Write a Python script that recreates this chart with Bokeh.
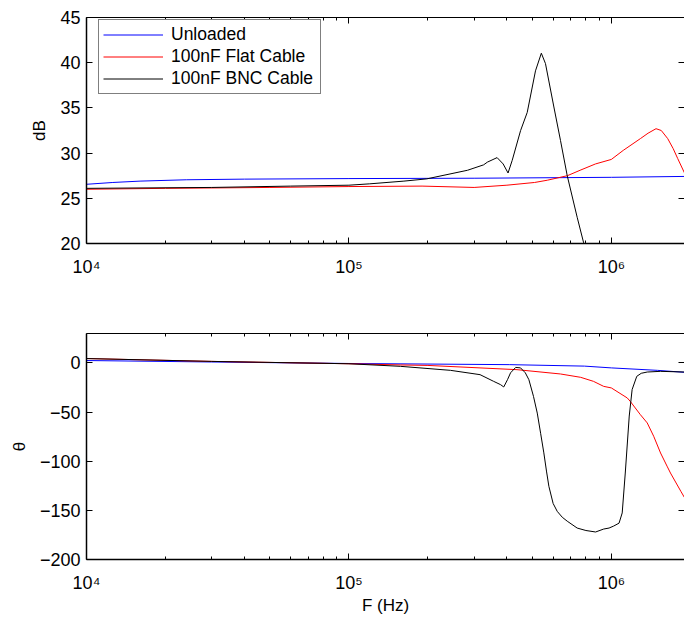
from bokeh.plotting import figure
from bokeh.models import (LogAxis, LinearAxis, FixedTicker, Legend, LegendItem,
                          Range1d, CustomJSTickFormatter)
from bokeh.layouts import column
from bokeh.embed import file_html
from bokeh.resources import INLINE

# ---------------- data ----------------
series_names = ["Unloaded", "100nF Flat Cable", "100nF BNC Cable"]

unl_mag_f = [1.0e4, 1.26e4, 1.6e4, 2.4e4, 4.0e4, 1.0e5, 3.0e5, 1.0e6, 1.9e6]
unl_mag = [26.55, 26.75, 26.9, 27.05, 27.12, 27.18, 27.22, 27.32, 27.42]

flat_mag_f = [1.0e4, 2.0e4, 5.0e4, 1.0e5, 1.9e5, 3.0e5, 4.0e5, 5.1e5, 5.7e5, 6.8e5,
              7.6e5, 8.7e5, 1.0e6, 1.11e6, 1.29e6, 1.38e6, 1.48e6, 1.55e6, 1.64e6,
              1.72e6, 1.79e6, 1.9e6]
flat_mag = [26.0, 26.1, 26.2, 26.3, 26.35, 26.2, 26.45, 26.75, 27.0, 27.5,
            28.1, 28.8, 29.3, 30.3, 31.6, 32.2, 32.7, 32.5, 31.6,
            30.5, 29.4, 27.8]

bnc_mag_f = [1.0e4, 3.0e4, 6.0e4, 1.0e5, 1.2e5, 1.62e5, 1.98e5, 2.83e5, 3.26e5, 3.37e5,
             3.67e5, 3.87e5, 4.04e5, 4.19e5, 4.51e5, 4.78e5, 5.14e5, 5.41e5, 5.61e5,
             6.04e5, 6.4e5, 6.79e5, 7.41e5, 7.83e5, 8.3e5]
bnc_mag = [26.1, 26.2, 26.35, 26.45, 26.6, 26.9, 27.15, 28.1, 28.7, 29.0,
           29.5, 28.8, 27.8, 29.2, 32.5, 34.5, 39.1, 41.05, 39.9,
           35.1, 31.4, 27.5, 22.9, 20.15, 17.0]

unl_ph_f = [1.0e4, 3.0e4, 1.0e5, 4.1e5, 7.9e5, 1.0e6, 1.5e6, 1.9e6]
unl_ph = [2.5, 1.0, -0.5, -1.7, -3.2, -5.0, -7.5, -9.5]

flat_ph_f = [1.0e4, 3.0e4, 1.0e5, 1.57e5, 2.0e5, 4.37e5, 6.4e5, 7.64e5, 8.55e5, 9.35e5,
             1.0e6, 1.15e6, 1.18e6, 1.29e6, 1.37e6, 1.45e6, 1.54e6, 1.63e6, 1.68e6,
             1.84e6, 1.9e6]
flat_ph = [4.5, 1.6, -0.8, -2.0, -2.5, -6.8, -11.2, -14.6, -18.7, -23.8,
           -25.4, -35.6, -39.0, -52.6, -61.0, -74.6, -91.6, -105.0, -112.0,
           -130.6, -137.0]

bnc_ph_f = [1.0e4, 3.0e4, 1.0e5, 1.57e5, 2.44e5, 3.16e5, 3.56e5, 3.78e5, 3.89e5, 4.02e5,
            4.13e5, 4.32e5, 4.51e5, 4.7e5, 4.85e5, 5.05e5, 5.22e5, 5.38e5, 5.53e5,
            5.66e5, 5.78e5, 6.0e5, 6.22e5, 6.5e5, 6.79e5, 7.41e5, 8.0e5, 8.71e5,
            9.35e5, 9.8e5, 1.02e6, 1.07e6, 1.10e6, 1.13e6, 1.17e6, 1.20e6,
            1.25e6, 1.3e6, 1.37e6, 1.54e6, 1.9e6]
bnc_ph = [4.5, 1.6, -0.8, -3.4, -7.5, -11.9, -18.7, -22.0, -24.4, -17.0,
          -10.0, -4.5, -5.0, -10.0, -17.0, -34.0, -51.0, -72.0, -91.5,
          -110.0, -125.5, -143.0, -151.0, -157.0, -161.0, -168.0, -170.5, -172.0,
          -169.0, -168.0, -166.0, -163.0, -152.6, -112.0, -54.0, -27.0,
          -13.6, -10.5, -9.2, -8.5, -9.2]

x_major = [1e4, 1e5, 1e6]
mag_ticks = [20, 25, 30, 35, 40, 45]
ph_ticks = [-200, -150, -100, -50, 0]

colors = ["#0000ff", "#ff0000", "#000000"]
FONT = "Liberation Sans"
TICK_FS = "18px"
LABEL_FS = "17px"
LEGEND_FS = "17.5px"

x_minor = [m * d for d in (1e4, 1e5, 1e6) for m in range(2, 10) if m * d < 1.9e6]

xfmt = CustomJSTickFormatter(code="""
const e = Math.round(Math.log10(tick));
const sup = {4: '\\u2074', 5: '\\u2075', 6: '\\u2076'};
return '10' + (sup[e] !== undefined ? sup[e] : e);
""")
yfmt = CustomJSTickFormatter(code="""
return tick < 0 ? '\\u2212' + (-tick) : '' + tick;
""")
blankfmt = CustomJSTickFormatter(code="return '';")


def style_common(ax):
    ax.axis_line_color = "black"
    ax.axis_line_width = 1.5
    ax.major_tick_in = 6
    ax.major_tick_out = 0
    ax.minor_tick_in = 3
    ax.minor_tick_out = 0
    ax.major_tick_line_color = "black"
    ax.minor_tick_line_color = "black"
    ax.major_label_text_font = FONT
    ax.major_label_text_font_size = TICK_FS
    ax.major_label_text_color = "black"
    ax.axis_label_text_font = FONT
    ax.axis_label_text_font_size = LABEL_FS
    ax.axis_label_text_font_style = "normal"
    ax.axis_label_text_color = "black"


def make_fig(height, top, bottom, yr, yticks, ylabel, xlabel):
    p = figure(width=684, height=height, x_axis_type="log",
               x_range=Range1d(1e4, 1.9e6), y_range=Range1d(*yr),
               output_backend="svg", toolbar_location=None,
               min_border_left=86, min_border_right=0,
               min_border_top=top, min_border_bottom=bottom)
    p.outline_line_color = None
    p.grid.visible = False
    p.background_fill_color = "white"
    p.border_fill_color = "white"

    xa = p.xaxis[0]
    xa.ticker = FixedTicker(ticks=x_major, minor_ticks=x_minor)
    xa.formatter = xfmt
    style_common(xa)
    xa.major_label_standoff = 13
    if xlabel:
        xa.axis_label = xlabel
        xa.axis_label_standoff = 0

    ya = p.yaxis[0]
    ya.ticker = FixedTicker(ticks=yticks)
    ya.formatter = yfmt
    style_common(ya)
    ya.minor_tick_line_color = None
    ya.major_label_standoff = 6
    ya.axis_label = ylabel
    ya.axis_label_standoff = 8

    top_ax = LogAxis(ticker=FixedTicker(ticks=x_major, minor_ticks=x_minor),
                     formatter=blankfmt)
    style_common(top_ax)
    top_ax.axis_line_width = 1
    top_ax.major_label_text_font_size = "1px"
    top_ax.major_label_text_color = None
    top_ax.major_label_standoff = 0
    p.add_layout(top_ax, "above")

    right_ax = LinearAxis(ticker=FixedTicker(ticks=yticks), formatter=blankfmt)
    style_common(right_ax)
    right_ax.axis_line_color = None
    right_ax.minor_tick_line_color = None
    right_ax.major_label_text_font_size = "1px"
    right_ax.major_label_text_color = None
    right_ax.major_label_standoff = 0
    p.add_layout(right_ax, "right")
    return p


p1 = make_fig(293, 17, 50, (20, 45), mag_ticks, "dB", None)
r1 = p1.line(unl_mag_f, unl_mag, line_color=colors[0], line_width=1)
r2 = p1.line(flat_mag_f, flat_mag, line_color=colors[1], line_width=1)
r3 = p1.line(bnc_mag_f, bnc_mag, line_color=colors[2], line_width=1)

legend = Legend(items=[LegendItem(label=series_names[0], renderers=[r1]),
                       LegendItem(label=series_names[1], renderers=[r2]),
                       LegendItem(label=series_names[2], renderers=[r3])],
                location=(12, 149), margin=0, padding=4, spacing=1,
                label_height=21, glyph_height=21, glyph_width=60,
                label_standoff=8, label_width=145,
                label_text_font=FONT, label_text_font_size=LEGEND_FS,
                label_text_color="black",
                border_line_color="black", border_line_width=1,
                background_fill_color="white", background_fill_alpha=1)
p1.add_layout(legend, "center")

p2 = make_fig(324, 40, 57, (-200, 30), ph_ticks, "\u03b8", "F (Hz)")
p2.line(unl_ph_f, unl_ph, line_color=colors[0], line_width=1)
p2.line(flat_ph_f, flat_ph, line_color=colors[1], line_width=1)
p2.line(bnc_ph_f, bnc_ph, line_color=colors[2], line_width=1)

layout = column(p1, p2)
open("out.html", "w", encoding="utf-8").write(file_html(layout, INLINE))
